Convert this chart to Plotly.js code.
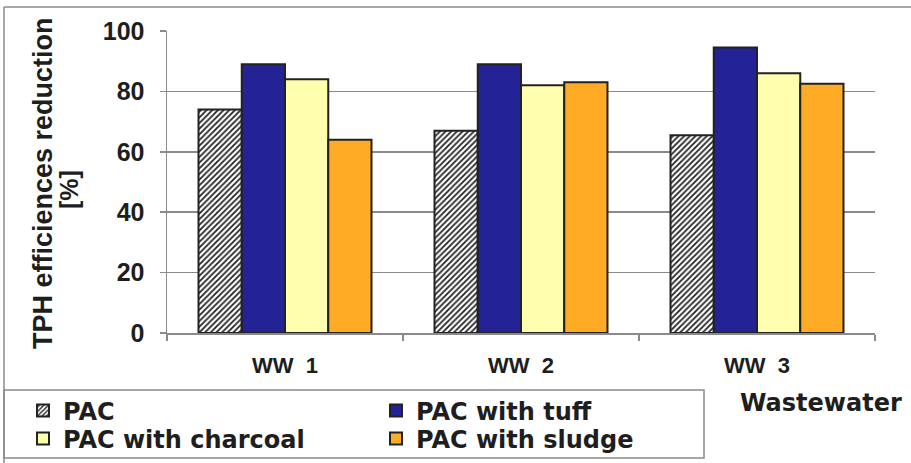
<!DOCTYPE html>
<html>
<head>
<meta charset="utf-8">
<script src="https://cdn.plot.ly/plotly-3.0.1.min.js"></script>
<style>html,body{margin:0;padding:0;background:#fff;}#chart{width:911px;height:463px;}</style>
</head>
<body>
<div id="chart"></div>
<script>
const categories = ['WW\u00a0\u00a01', 'WW\u00a0\u00a02', 'WW\u00a0\u00a03'];
const seriesNames = ['PAC', 'PAC with tuff', 'PAC with charcoal', 'PAC with sludge'];
const pacValues = [74, 67, 65.5];
const tuffValues = [89, 89, 94.5];
const charcoalValues = [84, 82, 86];
const sludgeValues = [64, 83, 82.5];
const yTickValues = [0, 20, 40, 60, 80, 100];
const yTitleLine1 = 'TPH efficiences reduction';
const yTitleLine2 = '[%]';
const xTitle = 'Wastewater';

const FONT = 'Liberation Sans, Arial, sans-serif';
const WIDEFONT = 'DejaVu Sans, Liberation Sans, sans-serif';
const TXT = '#1e1e1e';
const edge = {color: '#222222', width: 2};

const traces = [
  {type: 'bar', name: seriesNames[0], x: categories, y: pacValues, legend: 'legend',
   marker: {color: 'white', line: edge, pattern: {shape: '/', fgcolor: '#222222', bgcolor: '#ffffff', size: 4, solidity: 0.45}}},
  {type: 'bar', name: seriesNames[1], x: categories, y: tuffValues, legend: 'legend',
   marker: {color: '#232396', line: edge}},
  {type: 'bar', name: seriesNames[2], x: categories, y: charcoalValues, legend: 'legend2',
   marker: {color: '#ffffaf', line: edge}},
  {type: 'bar', name: seriesNames[3], x: categories, y: sludgeValues, legend: 'legend2',
   marker: {color: '#ffab25', line: edge}}
];

const L = 167, R = 875, T = 31, B = 333, W = 911, H = 463;
const px = v => (v - L) / (R - L);
const py = v => (B - v) / (B - T);
const gray = '#8a8a8a';

const legendCommon = {orientation: 'h', xanchor: 'left', yanchor: 'middle', bgcolor: 'rgba(0,0,0,0)',
  borderwidth: 0, entrywidth: 308, entrywidthmode: 'pixels', traceorder: 'normal',
  font: {family: WIDEFONT, size: 24, weight: 'bold', color: TXT}};

const layout = {
  width: W, height: H,
  margin: {l: L, r: W - R, t: T, b: H - B, pad: 0, autoexpand: false},
  paper_bgcolor: '#ffffff', plot_bgcolor: '#ffffff',
  barmode: 'group', bargap: 0.267, bargroupgap: 0,
  showlegend: true,
  legend: Object.assign({}, legendCommon, {x: px(23), y: py(411)}),
  legend2: Object.assign({}, legendCommon, {x: px(23), y: py(439)}),
  xaxis: {type: 'category', tickson: 'boundaries', ticks: 'outside', ticklen: 6, tickcolor: gray, tickwidth: 1.5,
    showline: true, linecolor: gray, linewidth: 1.5, showgrid: false, ticklabelstandoff: 12, automargin: false,
    tickfont: {family: FONT, size: 22, weight: 'bold', color: TXT}},
  yaxis: {range: [0, 100], tickvals: yTickValues, ticks: 'outside', ticklen: 6, tickcolor: gray, tickwidth: 1.5,
    showline: true, linecolor: gray, linewidth: 1.5, showgrid: true, gridcolor: gray, gridwidth: 1.5,
    zeroline: false, ticklabelstandoff: 10, automargin: false,
    tickfont: {family: FONT, size: 25, weight: 'bold', color: TXT}},
  annotations: [
    {text: yTitleLine1, xref: 'paper', yref: 'paper', x: px(43), y: py(183), textangle: -90,
     xanchor: 'center', yanchor: 'middle', showarrow: false,
     font: {family: FONT, size: 27, weight: 'bold', color: TXT}},
    {text: yTitleLine2, xref: 'paper', yref: 'paper', x: px(69), y: py(190), textangle: -90,
     xanchor: 'center', yanchor: 'middle', showarrow: false,
     font: {family: FONT, size: 25, weight: 'bold', color: TXT}},
    {text: xTitle, xref: 'paper', yref: 'paper', x: px(821), y: py(403),
     xanchor: 'center', yanchor: 'middle', showarrow: false,
     font: {family: WIDEFONT, size: 24, weight: 'bold', color: TXT}}
  ],
  shapes: [
    {type: 'line', xref: 'paper', yref: 'paper', x0: px(4), x1: px(911), y0: py(7), y1: py(7), line: {color: gray, width: 1.5}},
    {type: 'line', xref: 'paper', yref: 'paper', x0: px(4), x1: px(4), y0: py(7), y1: py(463), line: {color: gray, width: 1.5}},
    {type: 'rect', xref: 'paper', yref: 'paper', x0: px(4), x1: px(704), y0: py(390), y1: py(458), line: {color: gray, width: 1.5}, fillcolor: 'rgba(0,0,0,0)'}
  ]
};

Plotly.newPlot('chart', traces, layout, {displayModeBar: false, staticPlot: true});
</script>
</body>
</html>
